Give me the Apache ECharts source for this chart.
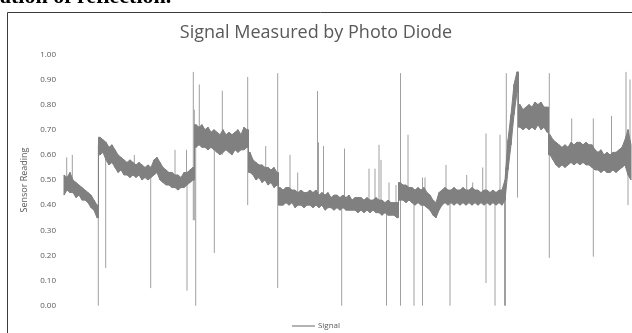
<!DOCTYPE html>
<html>
<head>
<meta charset="utf-8">
<script src="https://cdn.jsdelivr.net/npm/echarts@6/dist/echarts.min.js"></script>
<style>html,body{margin:0;padding:0;background:#fff;}#c{width:632px;height:333px;}</style>
</head>
<body>
<div id="c"></div>
<script>
// ---- data ----
const sampleStep = 3; // time units between envelope samples
const lowEnv = [
// first level
0.44,0.46,0.45,0.45,0.43,0.44,0.42,0.42,0.41,0.39,0.38,0.35,
// second level
0.60,0.61,0.58,0.56,0.57,0.55,0.53,0.54,0.52,0.52,0.51,0.52,0.51,0.52,0.50,0.51,
0.50,0.51,0.52,0.53,0.50,0.49,0.48,0.48,0.47,0.47,0.46,0.47,0.47,0.48,0.49,0.50,
// third level
0.63,0.64,0.63,0.63,0.62,0.63,0.62,0.61,0.60,0.61,0.62,0.61,0.60,0.62,0.61,0.62,0.62,0.63,
// fourth level
0.53,0.52,0.50,0.51,0.49,0.50,0.48,0.49,0.47,0.48,
// fifth level
0.40,0.40,0.41,0.40,0.41,0.39,0.40,0.40,0.39,0.40,0.40,0.39,0.40,0.39,0.40,0.38,0.39,0.39,0.38,0.39,
0.38,0.39,0.38,0.38,0.38,0.38,0.37,0.38,0.37,0.38,0.37,0.38,0.37,0.37,0.36,0.37,0.36,0.36,0.36,0.35,
// sixth level
0.42,0.42,0.41,0.42,0.41,0.40,0.41,0.40,0.40,0.39,0.38,0.36,0.35,0.38,0.40,0.41,0.40,0.41,
0.40,0.41,0.40,0.41,0.40,0.41,0.40,0.41,0.40,0.41,0.40,0.41,0.40,0.41,0.40,0.41,0.40,0.42,
// rise
0.54,0.64,0.76,0.85,
// seventh level
0.71,0.70,0.71,0.70,0.71,0.70,0.72,0.70,0.71,0.69,
// eighth level
0.60,0.58,0.56,0.55,0.56,0.55,0.56,0.57,0.56,0.57,0.56,0.57,0.56,0.56,
0.55,0.54,0.54,0.53,0.54,0.53,0.53,0.54,0.53,0.54,0.55,0.56,0.52,0.50
];
const highEnv = [
0.52,0.51,0.53,0.50,0.49,0.48,0.47,0.46,0.45,0.44,0.42,0.40,
0.67,0.66,0.65,0.63,0.64,0.62,0.60,0.59,0.58,0.57,0.58,0.57,0.56,0.57,0.56,0.55,
0.56,0.55,0.58,0.59,0.57,0.55,0.54,0.53,0.53,0.52,0.52,0.51,0.53,0.53,0.54,0.55,
0.72,0.71,0.72,0.70,0.71,0.69,0.70,0.69,0.68,0.70,0.68,0.69,0.68,0.69,0.70,0.68,0.71,0.70,
0.61,0.58,0.57,0.56,0.56,0.55,0.55,0.54,0.55,0.53,
0.47,0.46,0.47,0.47,0.46,0.46,0.45,0.46,0.45,0.45,0.46,0.45,0.46,0.44,0.45,0.44,0.45,0.43,0.44,0.44,
0.43,0.44,0.43,0.44,0.42,0.43,0.43,0.43,0.42,0.43,0.42,0.42,0.43,0.42,0.42,0.41,0.42,0.41,0.41,0.41,
0.49,0.48,0.48,0.47,0.47,0.46,0.47,0.46,0.47,0.45,0.44,0.42,0.41,0.45,0.46,0.47,0.46,0.46,
0.47,0.46,0.46,0.47,0.46,0.46,0.47,0.46,0.46,0.45,0.46,0.46,0.45,0.46,0.45,0.46,0.46,0.50,
0.66,0.76,0.88,0.93,
0.80,0.78,0.79,0.80,0.79,0.81,0.80,0.81,0.79,0.79,
0.68,0.66,0.65,0.64,0.63,0.64,0.63,0.65,0.64,0.65,0.65,0.64,0.65,0.64,
0.64,0.62,0.61,0.62,0.60,0.61,0.60,0.61,0.61,0.62,0.63,0.66,0.70,0.64
];
// sample indices after which the signal jumps to a new level
const levelJumps = [11, 43, 61, 71, 111, 151, 161];
// isolated spikes (time, from value, to value)
const spikeAt   = [2.7,8.3,34.3,41.7,70.3,86.7,111,122.5,123,129.3,130.3,131.7,135.3,150.3,158.3,183.7,201.7,213.7,226,233.7,253.5,254.5,259.5,277.7,280.5,305,311,315,317,322.5,325,332,336.5,344,350,358.5,361,382,386,402.7,408.7,418.7,422,431,436,440.5,441.5,442.3,453.5,485.3,507.7,529.3,547.5,562,564,566];
const spikeFrom = [0.47,0.47,0.00,0.15,0.54,0.07,0.50,0.50,0.06,0.34,0.34,0.00,0.67,0.21,0.60,0.40,0.53,0.07,0.43,0.43,0.43,0.43,0.43,0.00,0.42,0.40,0.40,0.40,0.40,0.00,0.40,0.39,0.00,0.45,0.00,0.00,0.44,0.43,0.00,0.43,0.43,0.43,0.09,0.00,0.43,0.00,0.00,0.50,0.43,0.19,0.62,0.195,0.57,0.55,0.40,0.55];
const spikeTo   = [0.59,0.60,0.64,0.62,0.60,0.53,0.62,0.62,0.50,0.93,0.78,0.66,0.88,0.65,0.855,0.91,0.635,0.925,0.60,0.53,0.854,0.65,0.635,0.42,0.625,0.545,0.545,0.64,0.58,0.40,0.49,0.48,0.925,0.68,0.44,0.51,0.51,0.56,0.43,0.52,0.49,0.55,0.685,0.43,0.68,0.46,0.55,0.925,0.92,0.925,0.745,0.745,0.755,0.93,0.70,0.90];

// ---- build library data ----
const bandData = [];
for (let i = 0; i < lowEnv.length - 1; i++) {
  bandData.push([i * sampleStep, lowEnv[i], highEnv[i], (i + 1) * sampleStep, lowEnv[i + 1], highEnv[i + 1], levelJumps.indexOf(i) >= 0 ? 1 : 0]);
}
const spikeData = spikeAt.map((t, i) => [t, spikeFrom[i], spikeTo[i]]);
const tMax = (lowEnv.length - 1) * sampleStep;

const chart = echarts.init(document.getElementById('c'), null, {renderer: 'canvas'});
const FONT = '"Open Sans", "Liberation Sans", sans-serif';
chart.setOption({
  animation: false,
  backgroundColor: '#ffffff',
  title: {
    text: 'Signal Measured by Photo Diode',
    left: 'center', top: 19,
    textStyle: {fontFamily: FONT, fontSize: 18, fontWeight: 'normal', color: '#595959'}
  },
  legend: {
    data: [{name: 'Signal', icon: 'rect'}],
    left: 'center', top: 317,
    itemWidth: 23, itemHeight: 1.2, itemGap: 4,
    textStyle: {fontFamily: FONT, fontSize: 8, color: '#595959', padding: [0, 0, 0, -2]}
  },
  grid: {left: 64, right: 1, top: 54.3, bottom: 27.3, containLabel: false},
  xAxis: {type: 'value', min: 0, max: tMax, show: false},
  yAxis: {
    type: 'value', min: 0, max: 1, interval: 0.1,
    name: 'Sensor Reading', nameLocation: 'middle', nameGap: 23,
    nameTextStyle: {fontFamily: FONT, fontSize: 9, color: '#595959'},
    axisLine: {show: false}, axisTick: {show: false}, splitLine: {show: false},
    axisLabel: {fontFamily: FONT, fontSize: 8, color: '#595959', margin: 8,
      formatter: v => v.toFixed(2)}
  },
  graphic: [
    {type: 'rect', shape: {x: 7.5, y: 12.5, width: 700, height: 400},
     style: {fill: 'none', stroke: '#3c3c3c', lineWidth: 1}, z: 100, silent: true},
    {type: 'text', x: 0, y: 8, z: 100, silent: true,
     style: {text: 'ation of reflection.', font: 'bold 22px "Liberation Serif", serif',
       fill: '#000', textVerticalAlign: 'bottom', textAlign: 'left'}}
  ],
  series: [
    {
      name: 'Spikes', type: 'custom', silent: true, z: 2,
      data: spikeData,
      renderItem: (params, api) => {
        const a = api.coord([api.value(0), api.value(1)]);
        const b = api.coord([api.value(0), api.value(2)]);
        return {type: 'line', shape: {x1: a[0], y1: a[1], x2: b[0], y2: b[1]},
          style: {stroke: '#a0a0a0', lineWidth: 1}};
      }
    },
    {
      name: 'Signal', type: 'custom', silent: true, z: 3,
      itemStyle: {color: '#808080'},
      data: bandData,
      renderItem: (params, api) => {
        const t0 = api.value(0), l0 = api.value(1), h0 = api.value(2);
        const t1 = api.value(3), l1 = api.value(4), h1 = api.value(5);
        let pts;
        if (api.value(6) === 1) {
          const tm = (t0 + t1) / 2;
          pts = [[t0, l0], [tm, l0], [tm, l1], [t1, l1], [t1, h1], [tm, h1], [tm, h0], [t0, h0]];
        } else {
          pts = [[t0, l0], [t1, l1], [t1, h1], [t0, h0]];
        }
        return {type: 'polygon', shape: {points: pts.map(p => api.coord(p))},
          style: {fill: '#808080', stroke: '#808080', lineWidth: 1}};
      }
    }
  ]
});
</script>
</body>
</html>
